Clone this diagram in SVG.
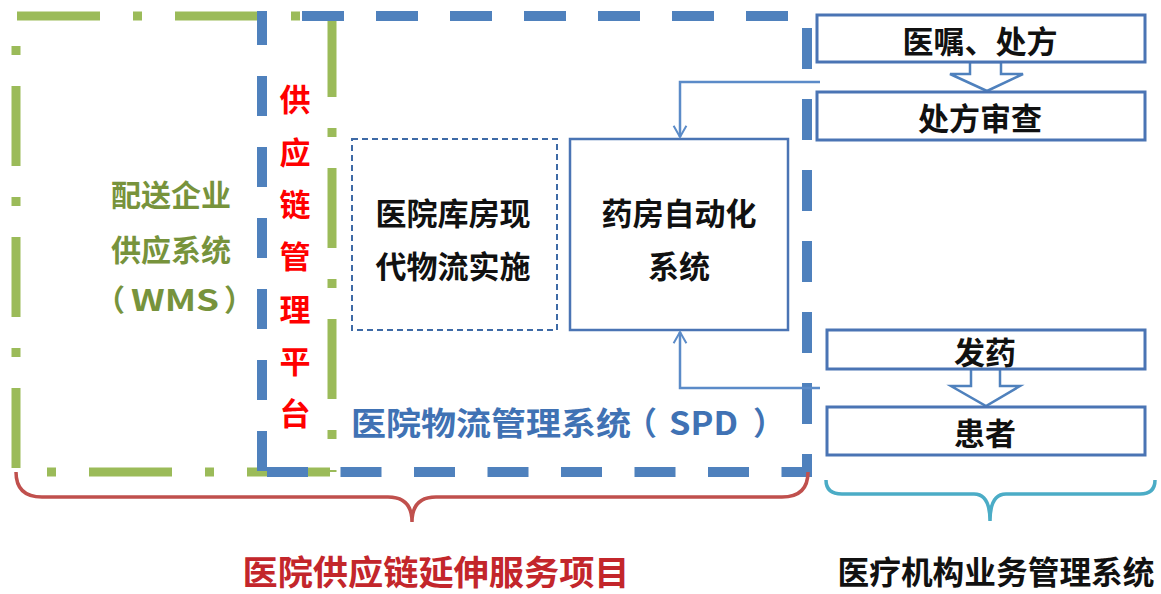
<svg xmlns="http://www.w3.org/2000/svg" width="1161" height="594" viewBox="0 0 1161 594">
<defs>
<style>
.t{font-family:"Noto Sans CJK SC","Noto Sans",sans-serif;font-weight:bold;text-anchor:middle;dominant-baseline:central}
.s{font-family:"Noto Sans CJK SC","Noto Sans",sans-serif;font-weight:bold;dominant-baseline:central}
.g{stroke:#9bbb59;stroke-width:9;fill:none}
.gh{stroke-dasharray:83 33 9 33}
.gv{stroke-dasharray:80 31 9 31}
.b{stroke:#4f81bd;stroke-width:10;fill:none}
.box{fill:#fff;stroke:#4a74b4;stroke-width:3}
.con{fill:none;stroke:#5b8bc8;stroke-width:2.5}
.blk{fill:#fff;stroke:#4f81bd;stroke-width:2.5;stroke-linejoin:miter}
</style>
<marker id="ah" viewBox="0 0 20 20" refX="18" refY="10" markerWidth="16" markerHeight="16" markerUnits="userSpaceOnUse" orient="auto">
<path d="M4 2 L18 10 L4 18" fill="none" stroke="#5b8bc8" stroke-width="2.5"/>
</marker>
</defs>

<g id="wms-frame">
<line class="g gh" x1="17" y1="16" x2="336" y2="16"/>
<line class="g gv" x1="332" y1="17" x2="332" y2="472"/>
<line class="g gv" x1="16" y1="15" x2="16" y2="474" stroke-dashoffset="80"/>
<line class="g gh" x1="14" y1="472" x2="332" y2="472" stroke-dashoffset="83"/>
</g>

<g id="spd-frame">
<line class="b" x1="270" y1="16" x2="812" y2="16" stroke-dasharray="42 32" stroke-dashoffset="42"/>
<line class="b" x1="262" y1="11" x2="262" y2="477" stroke-dasharray="40 31" stroke-dashoffset="6"/>
<line class="b" x1="807" y1="11" x2="807" y2="477" stroke-dasharray="41 30" stroke-dashoffset="54"/>
<line class="b" x1="267" y1="472" x2="812" y2="472" stroke-dasharray="41 32.5"/>
</g>

<g id="wms-label">
<text class="t" x="171" y="193" font-size="30" fill="#77933c">配送企业</text>
<text class="t" x="171" y="248" font-size="30" fill="#77933c">供应系统</text>
<text class="s" x="95" y="298" font-size="30" fill="#77933c">（</text>
<text class="s" x="131" y="298" font-size="30" fill="#77933c" textLength="88" lengthAdjust="spacingAndGlyphs">WMS</text>
<text class="s" x="224" y="298" font-size="30" fill="#77933c">）</text>
</g>

<g id="scm-platform">
<text class="t" x="295" y="97" font-size="31" fill="#ff0000">供</text>
<text class="t" x="295" y="150" font-size="31" fill="#ff0000">应</text>
<text class="t" x="295" y="202" font-size="31" fill="#ff0000">链</text>
<text class="t" x="295" y="254" font-size="31" fill="#ff0000">管</text>
<text class="t" x="295" y="307" font-size="31" fill="#ff0000">理</text>
<text class="t" x="295" y="359" font-size="31" fill="#ff0000">平</text>
<text class="t" x="295" y="411" font-size="31" fill="#ff0000">台</text>
</g>

<g id="warehouse">
<rect x="352" y="139" width="205" height="191" fill="none" stroke="#3e6aa6" stroke-width="2" stroke-dasharray="6 4"/>
<text class="t" x="453" y="211" font-size="31" fill="#111">医院库房现</text>
<text class="t" x="453" y="264" font-size="31" fill="#111">代物流实施</text>
</g>

<g id="pharmacy">
<rect x="570" y="139" width="218" height="191" fill="#fff" stroke="#4a74b4" stroke-width="2.5"/>
<text class="t" x="679" y="211" font-size="31" fill="#111">药房自动化</text>
<text class="t" x="679" y="264" font-size="31" fill="#111">系统</text>
</g>

<g id="spd-label" fill="#4072b4">
<text class="s" x="351" y="421" font-size="32" textLength="280" lengthAdjust="spacingAndGlyphs">医院物流管理系统</text>
<text class="s" x="625" y="421" font-size="32">（</text>
<text class="s" x="669" y="421" font-size="32" textLength="69" lengthAdjust="spacingAndGlyphs">SPD</text>
<text class="s" x="753" y="421" font-size="32">）</text>
</g>

<g id="connectors">
<polyline class="con" points="820,82 680,82 680,137" marker-end="url(#ah)"/>
<polyline class="con" points="820,388 680,388 680,332" marker-end="url(#ah)"/>
<polygon class="blk" points="970,62 1001,62 1001,74 1023,74 987,91 950,74 970,74"/>
<polygon class="blk" points="971,369 1000,369 1000,386 1020,386 986,406 951,386 971,386"/>
</g>

<g id="order">
<rect class="box" x="817" y="15" width="328" height="47"/>
<text class="t" x="980" y="39" font-size="31" fill="#111">医嘱、处方</text>
</g>
<g id="review">
<rect class="box" x="817" y="92" width="328" height="48"/>
<text class="t" x="980" y="116" font-size="31" fill="#111">处方审查</text>
</g>
<g id="dispense">
<rect class="box" x="827" y="330" width="318" height="39"/>
<text class="t" x="985" y="350" font-size="31" fill="#111">发药</text>
</g>
<g id="patient">
<rect class="box" x="827" y="407" width="318" height="48"/>
<text class="t" x="985" y="431" font-size="31" fill="#111">患者</text>
</g>

<g id="brace-red">
<path d="M16 472 Q16 497 42 497 L388 497 Q412 497 412 522 Q412 497 436 497 L782 497 Q808 497 808 472" fill="none" stroke="#c0504d" stroke-width="3.5"/>
<text class="t" x="436" y="570" font-size="34" fill="#c3262b" textLength="387" lengthAdjust="spacingAndGlyphs">医院供应链延伸服务项目</text>
</g>
<g id="brace-cyan">
<path d="M826 480 Q826 494 842 494 L974 494 Q990 494 990 521 Q990 494 1006 494 L1140 494 Q1155 494 1155 480" fill="none" stroke="#4bacc6" stroke-width="3.5"/>
<text class="t" x="996" y="570" font-size="32" fill="#111" textLength="317" lengthAdjust="spacingAndGlyphs">医疗机构业务管理系统</text>
</g>
</svg>
